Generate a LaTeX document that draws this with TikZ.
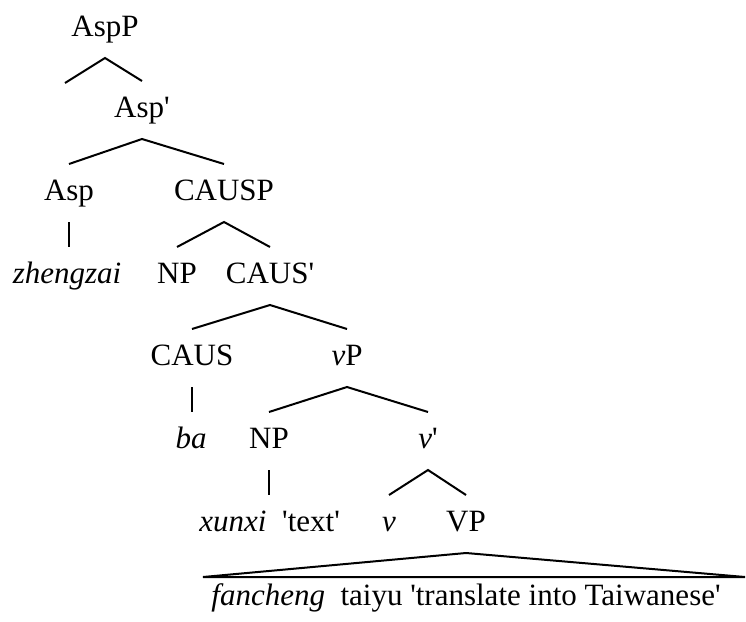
\documentclass[tikz,border=0pt]{standalone}
\usepackage{fontspec}
\setmainfont{Liberation Serif}
\newcommand{\apos}{\textquotesingle}
\begin{document}
\begin{tikzpicture}[x=1pt,y=-1pt,line width=2pt,
    lab/.style={anchor=base,inner sep=0pt,text height=35pt,text depth=21pt,
      font=\fontsize{31}{37}\selectfont}]
  \useasboundingbox (0,0) rectangle (746,621);

  % labels, one row every 82pt or so
  \node[lab] (aspp)     at (105,36)  {AspP};
  \node[lab] (asp1)     at (142,117) {Asp\apos};
  \node[lab] (asp)      at (69,200)  {Asp};
  \node[lab] (causp)    at (224,200) {CAUSP};
  \node[lab] (zhengzai) at (67,283)  {\textit{zhengzai}};
  \node[lab] (np1)      at (177,283) {NP};
  \node[lab] (caus1)    at (270,283) {CAUS\apos};
  \node[lab] (caus)     at (192,365) {CAUS};
  \node[lab] (vp)       at (347,365) {\textit{v}P};
  \node[lab] (ba)       at (191,448) {\textit{ba}};
  \node[lab] (np2)      at (269,448) {NP};
  \node[lab] (v1)       at (428,448) {\textit{v}\apos};
  \node[lab] (xunxi)    at (233,531) {\textit{xunxi}};
  \node[lab] (text)     at (311,531) {\apos text\apos};
  \node[lab] (v)        at (389,531) {\textit{v}};
  \node[lab] (VP)       at (466,531) {VP};
  \node[lab] (gloss)    at (466,605) {\textit{fancheng}\ \ taiyu \apos translate into Taiwanese\apos};
  \coordinate (spec) at (65,83);
  \coordinate (tl) at (203,577);
  \coordinate (tr) at (745,577);

  % branches
  \draw (spec) -- (aspp.south) -- (asp1.north);
  \draw (asp.north) -- (asp1.south) -- (causp.north);
  \draw (asp.south) -- (asp.south |- zhengzai.north);
  \draw (np1.north) -- (causp.south) -- (caus1.north);
  \draw (caus.north) -- (caus1.south) -- (vp.north);
  \draw (caus.south) -- (caus.south |- ba.north);
  \draw (np2.north) -- (vp.south) -- (v1.north);
  \draw (np2.south) -- (np2.south |- xunxi.north);
  \draw (v.north) -- (v1.south) -- (VP.north);
  \draw (VP.south) -- (tl) -- (tr) -- cycle;
\end{tikzpicture}
\end{document}
